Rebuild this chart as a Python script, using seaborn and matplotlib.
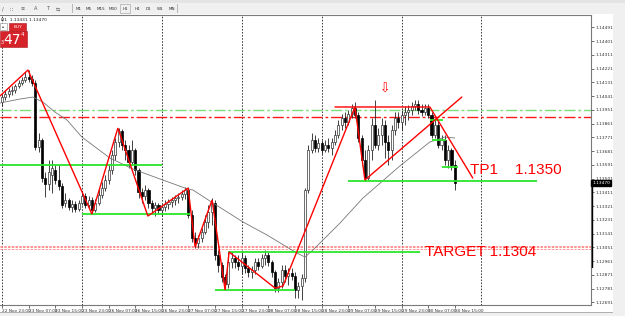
import matplotlib
matplotlib.use("Agg")
import matplotlib.pyplot as plt
from matplotlib.patches import Rectangle
import numpy as np
import pandas as pd
import seaborn as sns

# ---------------- data (EURUSD H1) ----------------
opens = [1.14002, 1.14035, 1.14055, 1.14074, 1.14081, 1.14107, 1.14127, 1.14146, 1.14166, 1.14153,
         1.14127, 1.13708, 1.13754, 1.13505, 1.13466, 1.13525, 1.13557, 1.13492, 1.13453, 1.13341,
         1.13361, 1.13315, 1.13335, 1.13302, 1.13341, 1.13387, 1.13328, 1.13361, 1.13296, 1.13341,
         1.13394, 1.13439, 1.13492, 1.13557, 1.13655, 1.13741, 1.13813, 1.13721, 1.13688, 1.13610,
         1.13688, 1.13557, 1.13413, 1.13387, 1.13426, 1.13341, 1.13309, 1.13328, 1.13296, 1.13315,
         1.13335, 1.13348, 1.13361, 1.13374, 1.13381, 1.13400, 1.13426, 1.13263, 1.13112, 1.13080,
         1.13112, 1.13152, 1.13217, 1.13282, 1.13341, 1.13001, 1.12936, 1.12857, 1.12811, 1.12955,
         1.12981, 1.12955, 1.12929, 1.12981, 1.12916, 1.12890, 1.12903, 1.12955, 1.12929, 1.12981,
         1.13001, 1.12955, 1.12890, 1.12785, 1.12824, 1.12903, 1.12864, 1.12883, 1.12864, 1.12772,
         1.12798, 1.12850, 1.13426, 1.13688, 1.13754, 1.13701, 1.13734, 1.13688, 1.13721, 1.13701,
         1.13741, 1.13786, 1.13852, 1.13898, 1.13872, 1.13924, 1.13963, 1.13917, 1.13767, 1.13623,
         1.13505, 1.13688, 1.13852, 1.13721, 1.13786, 1.13852, 1.13741, 1.13688, 1.13819, 1.13898,
         1.13872, 1.13917, 1.13937, 1.13950, 1.13976, 1.13989, 1.13950, 1.13937, 1.13963, 1.13917,
         1.13786, 1.13852, 1.13721, 1.13754, 1.13623, 1.13688, 1.13590]
closes = [1.14035, 1.14055, 1.14074, 1.14081, 1.14107, 1.14127, 1.14146, 1.14166, 1.14153, 1.14127,
          1.13708, 1.13754, 1.13505, 1.13466, 1.13544, 1.13570, 1.13492, 1.13453, 1.13328, 1.13361,
          1.13315, 1.13335, 1.13302, 1.13341, 1.13387, 1.13328, 1.13361, 1.13296, 1.13341, 1.13394,
          1.13439, 1.13492, 1.13557, 1.13655, 1.13741, 1.13813, 1.13721, 1.13688, 1.13610, 1.13688,
          1.13557, 1.13413, 1.13387, 1.13426, 1.13341, 1.13309, 1.13328, 1.13296, 1.13315, 1.13335,
          1.13348, 1.13361, 1.13374, 1.13381, 1.13400, 1.13426, 1.13263, 1.13112, 1.13080, 1.13112,
          1.13152, 1.13217, 1.13282, 1.13341, 1.13001, 1.12936, 1.12857, 1.12811, 1.12955, 1.12981,
          1.12955, 1.12929, 1.12981, 1.12916, 1.12890, 1.12903, 1.12955, 1.12929, 1.12981, 1.13001,
          1.12955, 1.12890, 1.12785, 1.12824, 1.12903, 1.12864, 1.12883, 1.12864, 1.12772, 1.12798,
          1.12850, 1.13426, 1.13688, 1.13754, 1.13701, 1.13734, 1.13688, 1.13721, 1.13701, 1.13741,
          1.13786, 1.13852, 1.13898, 1.13872, 1.13924, 1.13963, 1.13917, 1.13767, 1.13623, 1.13505,
          1.13688, 1.13852, 1.13721, 1.13786, 1.13852, 1.13741, 1.13688, 1.13819, 1.13898, 1.13872,
          1.13917, 1.13937, 1.13950, 1.13976, 1.13989, 1.13950, 1.13937, 1.13963, 1.13917, 1.13786,
          1.13852, 1.13721, 1.13754, 1.13623, 1.13688, 1.13590, 1.13470]
highs = [1.14055, 1.14081, 1.14094, 1.14107, 1.14120, 1.14146, 1.14166, 1.14199, 1.14212, 1.14179,
         1.14146, 1.13799, 1.13767, 1.13544, 1.13623, 1.13623, 1.13590, 1.13590, 1.13472, 1.13407,
         1.13374, 1.13361, 1.13354, 1.13361, 1.13420, 1.13407, 1.13387, 1.13381, 1.13367, 1.13439,
         1.13479, 1.13525, 1.13590, 1.13688, 1.13767, 1.13832, 1.13826, 1.13754, 1.13721, 1.13754,
         1.13701, 1.13570, 1.13439, 1.13459, 1.13439, 1.13361, 1.13348, 1.13341, 1.13335, 1.13361,
         1.13367, 1.13381, 1.13394, 1.13407, 1.13426, 1.13446, 1.13446, 1.13296, 1.13152, 1.13132,
         1.13178, 1.13263, 1.13328, 1.13374, 1.13361, 1.13034, 1.12955, 1.12877, 1.13021, 1.13021,
         1.13001, 1.13001, 1.13021, 1.13001, 1.12936, 1.12929, 1.12981, 1.12981, 1.13008, 1.13034,
         1.13021, 1.12968, 1.12903, 1.12850, 1.12936, 1.12936, 1.12916, 1.12916, 1.12890, 1.12824,
         1.12877, 1.13439, 1.13721, 1.13799, 1.13786, 1.13767, 1.13754, 1.13754, 1.13767, 1.13767,
         1.13819, 1.13885, 1.13924, 1.13937, 1.13950, 1.13989, 1.14002, 1.13937, 1.13786, 1.13688,
         1.13721, 1.13898, 1.14015, 1.13832, 1.13898, 1.13885, 1.13786, 1.13852, 1.13937, 1.13937,
         1.13950, 1.13976, 1.13983, 1.14002, 1.14015, 1.14015, 1.13989, 1.13989, 1.13989, 1.13937,
         1.13898, 1.13885, 1.13786, 1.13786, 1.13721, 1.13701, 1.13623]
lows = [1.13976, 1.14015, 1.14035, 1.14048, 1.14061, 1.14094, 1.14114, 1.14133, 1.14133, 1.14107,
        1.13688, 1.13675, 1.13479, 1.13381, 1.13426, 1.13407, 1.13466, 1.13426, 1.13309, 1.13315,
        1.13296, 1.13282, 1.13282, 1.13289, 1.13328, 1.13309, 1.13302, 1.13269, 1.13282, 1.13328,
        1.13374, 1.13420, 1.13466, 1.13531, 1.13623, 1.13708, 1.13688, 1.13623, 1.13570, 1.13590,
        1.13525, 1.13374, 1.13341, 1.13361, 1.13309, 1.13269, 1.13256, 1.13269, 1.13256, 1.13289,
        1.13302, 1.13315, 1.13328, 1.13341, 1.13361, 1.13367, 1.13243, 1.13086, 1.13047, 1.13047,
        1.13086, 1.13139, 1.13178, 1.13197, 1.12968, 1.12890, 1.12824, 1.12772, 1.12785, 1.12916,
        1.12916, 1.12903, 1.12877, 1.12883, 1.12857, 1.12850, 1.12877, 1.12903, 1.12916, 1.12936,
        1.12929, 1.12857, 1.12759, 1.12759, 1.12785, 1.12824, 1.12805, 1.12837, 1.12720, 1.12720,
        1.12707, 1.12824, 1.13407, 1.13669, 1.13675, 1.13675, 1.13662, 1.13675, 1.13675, 1.13655,
        1.13721, 1.13767, 1.13819, 1.13832, 1.13852, 1.13898, 1.13898, 1.13741, 1.13590, 1.13485,
        1.13492, 1.13623, 1.13701, 1.13688, 1.13721, 1.13636, 1.13590, 1.13623, 1.13786, 1.13832,
        1.13819, 1.13852, 1.13885, 1.13917, 1.13950, 1.13924, 1.13911, 1.13917, 1.13898, 1.13767,
        1.13767, 1.13701, 1.13688, 1.13590, 1.13570, 1.13557, 1.13426]

# moving average (grey line), bar index / price
ma_bars = [-0.6, 2.4, 5.4, 9.3, 12.3, 15.9, 19.5, 24.0, 32.4, 39.3, 48.3, 55.0, 57.4, 63.4,
           72.4, 79.6, 85.6, 88.6, 91.0, 93.4, 101.5, 108.4, 119.5, 128.5, 133.0, 136.0]
ma_prices = [1.13996, 1.14009, 1.14022, 1.14035, 1.14002, 1.13937, 1.13885, 1.13773, 1.13636,
             1.13564, 1.13492, 1.13439, 1.13426, 1.13341, 1.13217, 1.13132, 1.13053, 1.13014,
             1.12988, 1.13034, 1.13210, 1.13374, 1.13584, 1.13741, 1.13773, 1.13767]

# red zig-zag / trend lines
zig_bars = [-0.6, 7.8, 27.0, 34.8, 43.8, 55.9, 58.0, 63.1, 67.0, 68.2, 82.0, 84.4, 106.0, 109.0, 138.1]
zig_prices = [1.14042, 1.14212, 1.13269, 1.13832, 1.13256, 1.13439, 1.13053, 1.13361, 1.12772,
              1.13021, 1.12785, 1.12798, 1.13970, 1.13492, 1.14035]
top_bars = [100.0, 128.5, 141.4]
top_prices = [1.13970, 1.13970, 1.13505]

# green support / resistance segments
green_start = [-0.6, 24.0, 67.9, 64.0, 103.9, 128.5, 129.1, 132.1]
green_end = [48.0, 56.5, 125.5, 88.0, 160.7, 132.4, 133.3, 136.9]
green_price = [1.13590, 1.13269, 1.13021, 1.12772, 1.13487, 1.13885, 1.13754, 1.13577]

level_green_dd = 1.13953
level_red_dd = 1.13906
level_red_dotted = [1.13063, 1.13051, 1.13038]

ytick_vals = [1.14491, 1.14401, 1.14311, 1.14221, 1.14131, 1.14041, 1.13951, 1.13861, 1.13771,
              1.13681, 1.13591, 1.13501, 1.13411, 1.13321, 1.13231, 1.13141, 1.13051, 1.12961,
              1.12871, 1.12781, 1.12691]
xtick_bars = [0, 8, 16, 24, 32, 40, 48, 56, 64, 72, 80, 88, 96, 104, 112, 120, 128, 136]
xtick_labels = ["22 Nov 23:00", "23 Nov 07:00", "23 Nov 15:00", "23 Nov 23:00", "26 Nov 07:00",
                "26 Nov 15:00", "26 Nov 23:00", "27 Nov 07:00", "27 Nov 15:00", "27 Nov 23:00",
                "28 Nov 07:00", "28 Nov 15:00", "28 Nov 23:00", "29 Nov 07:00", "29 Nov 15:00",
                "29 Nov 23:00", "30 Nov 07:00", "30 Nov 15:00"]
grid_bars = [0, 24, 48, 72, 96, 120, 144]
timeframes = ["M1", "M5", "M15", "M30", "H1", "H4", "D1", "W1", "MN"]
last_price = 1.13470

# ---------------- drawing ----------------
sns.set_style("white")
plt.rcParams['font.family'] = ['DejaVu Sans']

W, H = 625, 316
fig = plt.figure(figsize=(W / 100, H / 100), dpi=100)
fig.patch.set_facecolor('white')


def fig_rect(x, y, w, h, z=-1, **kw):
    fig.add_artist(Rectangle((x / W, 1 - (y + h) / H), w / W, h / H,
                             transform=fig.transFigure, zorder=z, **kw))


def fig_text(x, y, s, **kw):
    fig.text(x / W, 1 - y / H, s, zorder=12, **kw)


# window chrome
fig_rect(0, 0, W, 14, facecolor='#f0f0f0', edgecolor='none')
fig_rect(0, 0, W, 3, facecolor='#e4e4e4', edgecolor='none')
fig_rect(0, 13.5, W, 0.8, facecolor='#a8a8a8', edgecolor='none')
fig_rect(613, 14, 12, H - 14, facecolor='#f0f0f0', edgecolor='none')
fig_rect(0, 312.5, W, 3.5, facecolor='#f0f0f0', edgecolor='none')
fig_rect(0, 312.3, 613, 0.6, facecolor='#b0b0b0', edgecolor='none')
tf_x = [79, 89, 101, 113, 125, 137, 148, 160, 172]
for tx, tf in zip(tf_x, timeframes):
    fig_text(tx, 8.8, tf, fontsize=3.0, color='#333333', ha='center', va='center')
fig_rect(120, 4.5, 10, 8, facecolor='none', edgecolor='#9a9a9a', linewidth=0.4)
for sx in [72, 177]:
    fig_rect(sx, 4, 0.6, 9, facecolor='#b8b8b8', edgecolor='none')
for ix, g in zip([3, 11, 23, 36, 48, 58], ["/", "\u2237", "\u2261", "A", "T", "\u21c6"]):
    fig_text(ix, 8.8, g, fontsize=3.6, color='#555555', ha='center', va='center')

ax = fig.add_axes([0, (H - 305) / H, 591 / W, 290 / H])
ax.set_xlim(-0.6, 176.9)
ax.set_ylim(1.12674, 1.14572)
ax.set_facecolor('white')

for g in grid_bars:
    ax.axvline(g, color='black', lw=0.55, ls=(0, (2, 2)), zorder=1)

ax.axhline(level_green_dd, color='#7be07b', lw=1.0, ls=(0, (8, 2, 2, 2)), zorder=2)
ax.axhline(level_red_dd, color='#ff1a1a', lw=1.0, ls=(0, (8, 2, 2, 2)), zorder=2)
for p in level_red_dotted:
    ax.axhline(p, color='#ff8080', lw=0.6, ls=(0, (3, 1.5)), zorder=2)

# candles
o = np.array(opens)
c = np.array(closes)
hi = np.array(highs)
lo = np.array(lows)
xb = np.arange(len(o))
bull = c >= o
body_bottom = np.minimum(o, c)
body_h = np.maximum(np.abs(c - o), 0.00003)
ax.vlines(xb, lo, hi, color='#222222', lw=0.6, zorder=3)
ax.bar(xb[bull], body_h[bull], bottom=body_bottom[bull], width=0.62,
       color='white', edgecolor='#333333', linewidth=0.5, zorder=4)
ax.bar(xb[~bull], body_h[~bull], bottom=body_bottom[~bull], width=0.62,
       color='black', edgecolor='black', linewidth=0.5, zorder=4)

# moving average
ma_df = pd.DataFrame({"bar": ma_bars, "price": ma_prices})
sns.lineplot(data=ma_df, x="bar", y="price", ax=ax, color='#777777', lw=0.6, zorder=5)

# green lines
ax.hlines(green_price, green_start, green_end, color='#2be62b', lw=1.3, zorder=6)

# red trend lines
ax.plot(zig_bars, zig_prices, color='#ff0000', lw=1.0, zorder=7, solid_joinstyle='miter')
ax.plot(top_bars, top_prices, color='#ff0000', lw=1.0, zorder=7)

# annotations
ax.text(140.5, 1.13557, "TP1    1.1350", color='#ff0000', fontsize=11,
        family=['Liberation Sans', 'DejaVu Sans'], va='center', ha='left', zorder=8)
ax.text(127.0, 1.13021, "TARGET 1.1304", color='#ff0000', fontsize=11,
        family=['Liberation Sans', 'DejaVu Sans'], va='center', ha='left', zorder=8)
ax.text(115.0, 1.14087, "\u21e9", color='#ff0000', fontsize=9, va='center', ha='center', zorder=8)
ax.text(0.002, 0.99, "H1  1.13431 1.13470", transform=ax.transAxes, fontsize=3.2,
        color='#222222', va='top', ha='left')

# axes styling
ax.spines['left'].set_visible(False)
for side in ['right', 'top', 'bottom']:
    ax.spines[side].set_color('#7a7a7a')
    ax.spines[side].set_linewidth(0.8)
ax.yaxis.tick_right()
ax.set_yticks(ytick_vals)
ax.set_yticklabels([f"{v:.5f}" for v in ytick_vals])
ax.tick_params(axis='y', length=2, width=0.5, pad=1.0, labelsize=3.2, colors='#333333', right=True)
ax.set_xticks(xtick_bars)
ax.set_xticklabels(xtick_labels)
ax.tick_params(axis='x', length=2, width=0.5, pad=1.0, labelsize=3.1, colors='#333333', bottom=True)
for lbl in ax.get_xticklabels():
    lbl.set_ha('left')
ax.set_xlabel("")
ax.set_ylabel("")

# current price marker
ax.annotate(f"{last_price:.5f}", xy=(1.0, last_price), xycoords=('axes fraction', 'data'),
            xytext=(1.0, 0), textcoords='offset points', fontsize=3.2, color='white',
            va='center', ha='left', zorder=10,
            bbox=dict(boxstyle='square,pad=0.25', fc='black', ec='black'), annotation_clip=False)
ax.plot([1.0015, 1.0015], [last_price, 1.12922], transform=ax.get_yaxis_transform(),
        color='black', lw=1.0, clip_on=False, zorder=9)

# BUY panel
fig_rect(0, 23, 7, 7, z=11, facecolor='white', edgecolor='#8a8a8a', linewidth=0.4)
fig_text(3.5, 26.5, "\u25b4", fontsize=3, color='#444444', ha='center', va='center')
fig_rect(9, 23, 17, 8, z=11, facecolor='#d9262c', edgecolor='#a81518', linewidth=0.4)
fig_text(17.5, 27, "BUY", fontsize=3.2, color='white', ha='center', va='center')
fig_rect(0, 31, 27, 16, z=11, facecolor='#d6232a', edgecolor='#b01a1f', linewidth=0.4)
fig_text(0.5, 43, "3", fontsize=3.5, color='white', ha='left', va='center')
fig_text(3, 39.5, "47", fontsize=10, color='white', ha='left', va='center')
fig_text(20.5, 34.5, "4", fontsize=4, color='white', ha='left', va='center')

fig.savefig("out.png", dpi=100)
